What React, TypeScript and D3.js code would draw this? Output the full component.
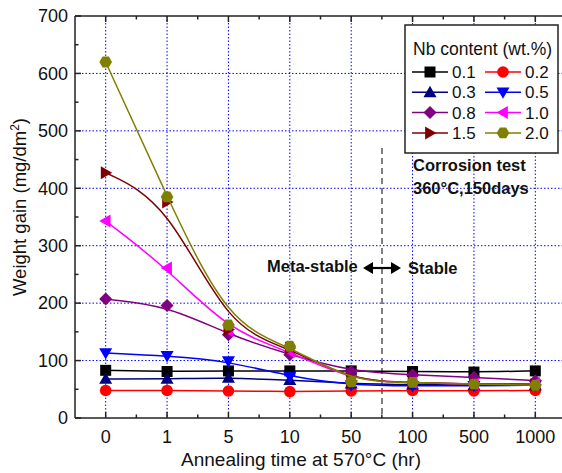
import React from "react";
import * as d3 from "d3";

// annealing time categories (hr), evenly spaced on the axis
const times = ["0", "1", "5", "10", "50", "100", "500", "1000"];
const yTicks = [0, 100, 200, 300, 400, 500, 600, 700];

// weight gain (mg/dm2) for each Nb content
const nb01 = [83, 81, 82, 82, 82, 81, 80, 82];
const nb02 = [48, 48, 47, 46, 47, 48, 47, 48];
const nb03 = [68, 68, 70, 66, 60, 58, 57, 57];
const nb05 = [113, 108, 99, 72, 57, 56, 56, 57];
const nb08 = [207, 196, 145, 110, 81, 75, 71, 65];
const nb10 = [343, 261, 152, 116, 65, 62, 59, 60];
const nb15 = [427, 376, 154, 122, 65, 62, 59, 58];
const nb20 = [620, 385, 162, 125, 63, 62, 59, 57];

const series = [
  { name: "0.1", values: nb01, color: "#000000", shape: "square" },
  { name: "0.2", values: nb02, color: "#FF0000", shape: "circle" },
  { name: "0.3", values: nb03, color: "#000080", shape: "up" },
  { name: "0.5", values: nb05, color: "#0000FF", shape: "down" },
  { name: "0.8", values: nb08, color: "#800080", shape: "diamond" },
  { name: "1.0", values: nb10, color: "#FF00FF", shape: "left" },
  { name: "1.5", values: nb15, color: "#800000", shape: "right" },
  { name: "2.0", values: nb20, color: "#808000", shape: "hexagon" },
];

const FONT = "'Liberation Sans', Arial, sans-serif";

function Marker({ shape, x, y, color }: { shape: string; x: number; y: number; color: string }) {
  const s = 5.5;
  if (shape === "square") return <rect x={x - s} y={y - s} width={2 * s} height={2 * s} fill={color} />;
  if (shape === "circle") return <circle cx={x} cy={y} r={s + 0.3} fill={color} />;
  let pts: number[][] = [];
  const t = 6.5;
  if (shape === "up") pts = [[0, -t], [t, t * 0.75], [-t, t * 0.75]];
  if (shape === "down") pts = [[0, t], [t, -t * 0.75], [-t, -t * 0.75]];
  if (shape === "left") pts = [[-t, 0], [t * 0.75, -t], [t * 0.75, t]];
  if (shape === "right") pts = [[t, 0], [-t * 0.75, -t], [-t * 0.75, t]];
  if (shape === "diamond") pts = [[0, -t], [t, 0], [0, t], [-t, 0]];
  if (shape === "hexagon") pts = d3.range(6).map((i) => [6.3 * Math.cos((i * Math.PI) / 3), 6.3 * Math.sin((i * Math.PI) / 3)]);
  return <polygon points={pts.map((p) => `${x + p[0]},${y + p[1]}`).join(" ")} fill={color} />;
}

export default function App() {
  const width = 562;
  const height = 473;
  const left = 75, right = 566, top = 16, bottom = 418;

  const x = d3.scalePoint<string>().domain(times).range([left, right]).padding(0.5);
  const y = d3.scaleLinear().domain([0, 700]).range([bottom, top]);
  const step = x.step();

  // B-spline through the points, as in the original plot
  const line = d3
    .line<number>()
    .x((_, i) => x(times[i]) as number)
    .y((d) => y(d))
    .curve(d3.curveBasis);

  const minorY = d3.range(50, 700, 100);
  const bounds = d3.range(1, 8).map((i) => left + i * step);

  const legendRows = [0, 1, 2, 3];

  return (
    <svg width={width} height={height} style={{ position: "absolute", left: 0, top: 0 }} fontFamily={FONT}>
      <rect width={width} height={height} fill="#fff" />
      {/* grid */}
      <g stroke="#0000FF" strokeWidth={1} strokeDasharray="1.5,2">
        {yTicks.slice(1, -1).map((t) => (
          <line key={"gy" + t} x1={left} x2={right} y1={y(t)} y2={y(t)} />
        ))}
        {times.map((t) => (
          <line key={"gx" + t} x1={x(t)} x2={x(t)} y1={top} y2={bottom} />
        ))}
      </g>

      {/* dashed separator */}
      <line x1={382} x2={382} y1={148} y2={bottom} stroke="#000" strokeWidth={1} strokeDasharray="6,4" />

      {/* series */}
      {series.map((s) => (
        <g key={s.name}>
          <path d={line(s.values) as string} fill="none" stroke={s.color} strokeWidth={1.5} />
          {s.values.map((v, i) => (
            <Marker key={i} shape={s.shape} x={x(times[i]) as number} y={y(v)} color={s.color} />
          ))}
        </g>
      ))}

      {/* frame and ticks */}
      <g stroke="#222" strokeWidth={1.5}>
        <line x1={left} x2={left} y1={top} y2={bottom} />
        <line x1={left} x2={right} y1={bottom} y2={bottom} />
        <line x1={left} x2={right} y1={top} y2={top} />
        {yTicks.map((t) => (
          <line key={"ty" + t} x1={left} x2={left + 6} y1={y(t)} y2={y(t)} />
        ))}
        {minorY.map((t) => (
          <line key={"my" + t} x1={left} x2={left + 3.5} y1={y(t)} y2={y(t)} />
        ))}
        {times.map((t) => (
          <g key={"tx" + t}>
            <line x1={x(t)} x2={x(t)} y1={bottom} y2={bottom - 6} />
            <line x1={x(t)} x2={x(t)} y1={top} y2={top + 6} />
          </g>
        ))}
        {bounds.map((b) => (
          <g key={"mx" + b}>
            <line x1={b} x2={b} y1={bottom} y2={bottom - 3.5} />
            <line x1={b} x2={b} y1={top} y2={top + 3.5} />
          </g>
        ))}
      </g>

      {/* tick labels */}
      <g fontSize={18} fill="#111">
        {yTicks.map((t) => (
          <text key={"ly" + t} x={left - 7} y={y(t)} dy="0.35em" textAnchor="end">
            {t}
          </text>
        ))}
        {times.map((t) => (
          <text key={"lx" + t} x={x(t)} y={443} textAnchor="middle">
            {t}
          </text>
        ))}
      </g>

      {/* axis titles */}
      <text x={301} y={466} textAnchor="middle" fontSize={19} fill="#111">
        Annealing time at 570°C (hr)
      </text>
      <text transform="translate(26,207) rotate(-90)" textAnchor="middle" fontSize={18.5} fill="#111">
        Weight gain (mg/dm<tspan dy={-7} fontSize={12}>2</tspan>
        <tspan dy={7}>)</tspan>
      </text>

      {/* legend */}
      <rect x={405} y={25} width={153} height={128} fill="#fff" stroke="#222" strokeWidth={1.5} />
      <text x={413} y={55} fontSize={17.5} fill="#111">
        Nb content (wt.%)
      </text>
      {legendRows.map((r) =>
        [0, 1].map((c) => {
          const s = series[r * 2 + c];
          const cy = 72 + r * 20.3;
          const x0 = c === 0 ? 412 : 485;
          return (
            <g key={s.name}>
              <line x1={x0} x2={x0 + 36} y1={cy} y2={cy} stroke={s.color} strokeWidth={1.5} />
              <Marker shape={s.shape} x={x0 + 18} y={cy} color={s.color} />
              <text x={x0 + 40} y={cy} dy="0.36em" fontSize={17} fill="#111">
                {s.name}
              </text>
            </g>
          );
        })
      )}

      {/* annotations */}
      <g fontWeight="bold" fontSize={16.5} fill="#111">
        <text x={413} y={171}>Corrosion test</text>
        <text x={413} y={194}>360°C,150days</text>
        <text x={267} y={272}>Meta-stable</text>
        <text x={408} y={274}>Stable</text>
      </g>
      <g fill="#000" stroke="#000">
        <line x1={370} x2={394} y1={268} y2={268} strokeWidth={2.2} />
        <polygon points="363,268 373,262 373,274" stroke="none" />
        <polygon points="401,268 391,262 391,274" stroke="none" />
      </g>
    </svg>
  );
}
